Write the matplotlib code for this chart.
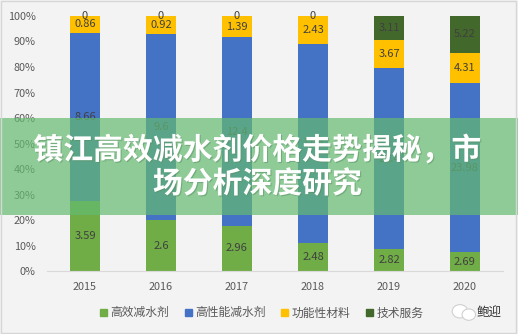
import numpy as np
import matplotlib
matplotlib.use("Agg")
import matplotlib.pyplot as plt
from matplotlib.patches import Rectangle, Patch, Ellipse
import matplotlib.patheffects as pe

plt.rcParams['font.family'] = ['Noto Sans CJK SC', 'DejaVu Sans']

# 各年度业务构成（亿元）
years = ['2015', '2016', '2017', '2018', '2019', '2020']
gaoxiao = [3.59, 2.6, 2.96, 2.48, 2.82, 2.69]
gaoxingneng = [8.66, 9.6, 12.4, 17.6, 23.4, 23.98]
gongneng = [0.86, 0.92, 1.39, 2.43, 3.67, 4.31]
jishu = [0, 0, 0, 0, 3.11, 5.22]

series_names = ['高效减水剂', '高性能减水剂', '功能性材料', '技术服务']
series_colors = ['#70ad47', '#4472c4', '#ffc000', '#43682b']
title_text = '镇江高效减水剂价格走势揭秘，市\n场分析深度研究'

bg = '#f3f3f3'
fig = plt.figure(figsize=(5.18, 3.34), dpi=100, facecolor=bg)
ax = fig.add_axes([0.0907, 0.1886, 0.8803, 0.7635])
ax.set_facecolor(bg)

data = np.array([gaoxiao, gaoxingneng, gongneng, jishu], dtype=float)
shares = data / data.sum(axis=0)
x = np.arange(len(years))
bottom = np.zeros(len(years))
for vals, share, color in zip(data, shares, series_colors):
    ax.bar(x, share, 0.395, bottom=bottom, color=color, zorder=2)
    for xi, v, b, s in zip(x, vals, bottom, share):
        ax.text(xi, b + s / 2, '{:g}'.format(v), ha='center', va='center',
                fontsize=8, color='#404040', zorder=3)
    bottom += share

ax.set_xlim(-0.5, len(years) - 0.5)
ax.set_ylim(0, 1)
ax.set_yticks(np.arange(0, 1.01, 0.1))
ax.set_yticklabels(['{}%'.format(int(round(t * 100))) for t in np.arange(0, 1.01, 0.1)])
ax.set_xticks(x)
ax.set_xticklabels(years)
ax.tick_params(length=0, labelsize=7.8, labelcolor='#595959')
ax.tick_params(axis='x', pad=8)
ax.tick_params(axis='y', pad=8)
for side in ['top', 'right', 'left']:
    ax.spines[side].set_visible(False)
ax.spines['bottom'].set_color('#d9d9d9')

handles = [Patch(color=c, label=n) for c, n in zip(series_colors, series_names)]
fig.legend(handles=handles, loc='center', bbox_to_anchor=(0.505, 0.063), ncol=4,
           frameon=False, fontsize=8.5, handlelength=0.6, handleheight=0.6,
           handletextpad=0.3, columnspacing=1.3, labelcolor='#595959')

# 水印
fig.patches.append(Ellipse((0.888, 0.068), 0.03, 0.04, transform=fig.transFigure,
                           facecolor='white', edgecolor='#d0d0d0', lw=0.8))
fig.patches.append(Ellipse((0.905, 0.058), 0.026, 0.034, transform=fig.transFigure,
                           facecolor='white', edgecolor='#d0d0d0', lw=0.8))
fig.text(0.945, 0.066, '鲍迎', fontsize=9, color='#333333', ha='center', va='center')

# 标题横幅
fig.patches.append(Rectangle((0, 0.356), 1, 0.29, transform=fig.transFigure,
                             facecolor='#64bb70', alpha=0.7, edgecolor='none', zorder=5))
fig.text(0.497, 0.5, title_text, ha='center', va='center', fontsize=21.5, fontweight='bold',
         color='white', linespacing=1.15, zorder=6,
         path_effects=[pe.SimplePatchShadow(offset=(0.8, -0.8), shadow_rgbFace='#5a8f62',
                                            alpha=0.5),
                       pe.Normal()])

fig.patches.append(Rectangle((0.002, 0.003), 0.994, 0.993, transform=fig.transFigure,
                             facecolor='none', edgecolor='#d6d6d6', lw=1, zorder=7))

fig.savefig('out.png', dpi=100, facecolor=bg)
